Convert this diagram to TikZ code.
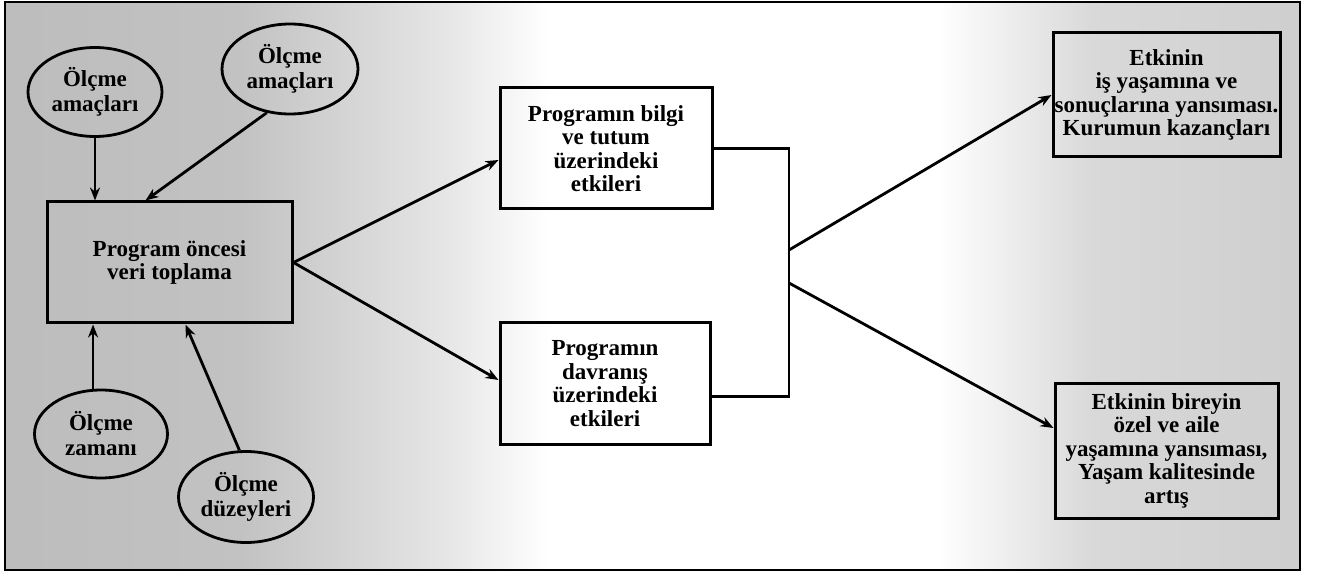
\documentclass[tikz,border=0pt]{standalone}
\usepackage{fontspec}
\setmainfont{Liberation Serif}
\usetikzlibrary{shapes.geometric,arrows.meta}
% paper tone: grey at the sides, white in the middle
\pgfdeclarehorizontalshading{paper}{100bp}{color(0bp)=(black!26); color(25bp)=(black!26); color(34bp)=(black!24); color(42bp)=(black!10); color(46bp)=(white); color(61bp)=(white); color(67bp)=(black!15); color(75bp)=(black!19); color(100bp)=(black!19)}
\begin{document}
\begin{tikzpicture}[x=1pt,y=-1pt,
  txt/.style={font=\fontsize{23}{23.5}\selectfont\bfseries, align=center, inner sep=0pt},
  oval/.style={txt, font=\fontsize{23}{25}\selectfont\bfseries, ellipse, draw, line width=2.8pt},
  blk/.style={txt, rectangle, draw, line width=3pt},
  link/.style={line width=2.8pt},
  arr/.style={link, -{Stealth[length=13pt,width=10pt]}}]
\useasboundingbox (0,0) rectangle (1323,577);
\shadedraw[shading=paper, draw=black, line width=2.4pt] (5,2) rectangle (1300,570);

% measurement inputs
\node[oval, minimum width=134pt, minimum height=89pt] (e1) at (95,92) {Ölçme\\amaçları};
\node[oval, minimum width=136pt, minimum height=90pt] (e2) at (290,69) {Ölçme\\amaçları};
\node[oval, minimum width=133pt, minimum height=88pt] (e3) at (101,434) {Ölçme\\zamanı};
\node[oval, minimum width=135pt, minimum height=91pt] (e4) at (246,497) {Ölçme\\düzeyleri};

% boxes
\node[blk, minimum width=245pt, minimum height=121pt] (pre) at (169.5,262.5) {Program öncesi\\veri toplama};
\node[blk, minimum width=212pt, minimum height=121pt] (bt) at (606,148.5) {Programın bilgi\\ve tutum\\üzerindeki\\etkileri};
\node[blk, minimum width=210pt, minimum height=121pt] (dv) at (605,383.5) {Programın\\davranış\\üzerindeki\\etkileri};
\node[blk, minimum width=227pt, minimum height=124pt] (ik) at (1166.5,95) {Etkinin\\iş yaşamına ve\\sonuçlarına yansıması.\\Kurumun kazançları};
\node[blk, minimum width=223pt, minimum height=135pt] (ay) at (1166.5,450.5) {Etkinin bireyin\\özel ve aile\\yaşamına yansıması,\\Yaşam kalitesinde\\artış};

% junction line joining the two programme effects
\coordinate (jx) at (789,0);
\coordinate (ju) at (789,250);
\coordinate (jd) at (789,283);

% arrows into the pre-programme box
\draw[arr] (e1.south) -- (e1.south |- pre.north);
\draw[arr] (e2.242) -- ([xshift=100pt]pre.north west);
\draw[arr] (e3.100) -- (e3.100 |- pre.south);
\draw[arr] (e4.98) -- ([xshift=140pt]pre.south west);

% programme effects
\draw[arr] (pre.east) -- ([yshift=-11.5pt]bt.west);
\draw[arr] (pre.east) -- ([yshift=3.5pt]dv.west);

\draw[link] (bt.east) -- (bt.east -| jx) -- ([yshift=-13pt]dv.east -| jx) -- ([yshift=-13pt]dv.east);

% outcomes
\draw[arr] (ju) -- (ik.west);
\draw[arr] (jd) -- ([yshift=22.5pt]ay.west);
\end{tikzpicture}
\end{document}
